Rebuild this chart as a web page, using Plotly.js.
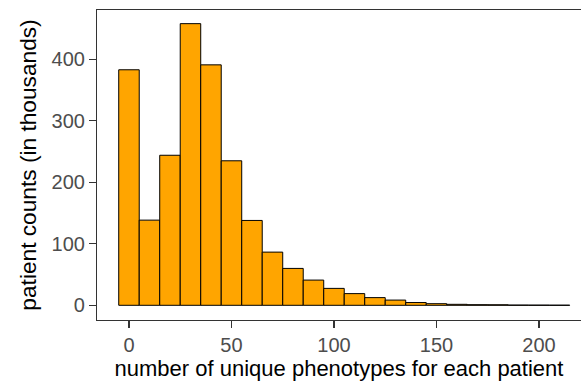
<!DOCTYPE html>
<html>
<head>
<meta charset="utf-8">
<script src="https://cdn.plot.ly/plotly-3.0.1.min.js"></script>
<style>html,body{margin:0;padding:0;background:#fff;}#chart{width:581px;height:383px;}</style>
</head>
<body>
<div id="chart"></div>
<script>
// bin centers (number of unique phenotypes), bin width 10
const binCenters = [0, 10, 20, 30, 40, 50, 60, 70, 80, 90, 100, 110, 120, 130, 140, 150, 160, 170, 180, 190, 200, 210];
// patient counts in thousands
const patientCounts = [383, 138.5, 244, 458, 391, 235, 138, 86.5, 60, 41, 27.5, 19, 12.5, 8.5, 4.5, 2.6, 1.6, 1.0, 0.9, 0.4, 0.3, 0.2];
const xTickVals = [0, 50, 100, 150, 200];
const yTickVals = [0, 100, 200, 300, 400];
const binWidth = 10;

const font = "'Liberation Sans', Arial, Helvetica, sans-serif";

Plotly.newPlot('chart', [{
  type: 'bar',
  x: binCenters,
  y: patientCounts,
  width: binCenters.map(() => binWidth),
  marker: {color: '#FFA500', line: {color: '#000000', width: 1}},
  hoverinfo: 'x+y'
}], {
  width: 581, height: 383,
  margin: {l: 97, r: 0, t: 10, b: 63},
  paper_bgcolor: '#ffffff', plot_bgcolor: '#ffffff',
  showlegend: false,
  bargap: 0,
  font: {family: font, size: 20, color: '#000'},
  xaxis: {
    range: [-15.6, 220.5],
    tickvals: xTickVals, ticktext: xTickVals.map(String),
    showgrid: false, zeroline: false,
    showline: true, linecolor: '#333333', linewidth: 1.1, mirror: true,
    ticks: 'outside', ticklen: 7, tickwidth: 1.1, tickcolor: '#333333',
    tickfont: {family: font, size: 20, color: '#4D4D4D'},
    title: {text: 'number of unique phenotypes for each patient', font: {family: font, size: 22, color: '#000'}, standoff: 5}
  },
  yaxis: {
    range: [-23.9, 480.2],
    tickvals: yTickVals, ticktext: yTickVals.map(String),
    showgrid: false, zeroline: false,
    showline: true, linecolor: '#333333', linewidth: 1.1,
    ticks: 'outside', ticklen: 7, tickwidth: 1.1, tickcolor: '#333333',
    tickfont: {family: font, size: 20, color: '#4D4D4D'},
    title: {text: 'patient counts (in thousands)', font: {family: font, size: 22.7, color: '#000'}, standoff: 8}
  }
}, {displayModeBar: false, staticPlot: true});
</script>
</body>
</html>
